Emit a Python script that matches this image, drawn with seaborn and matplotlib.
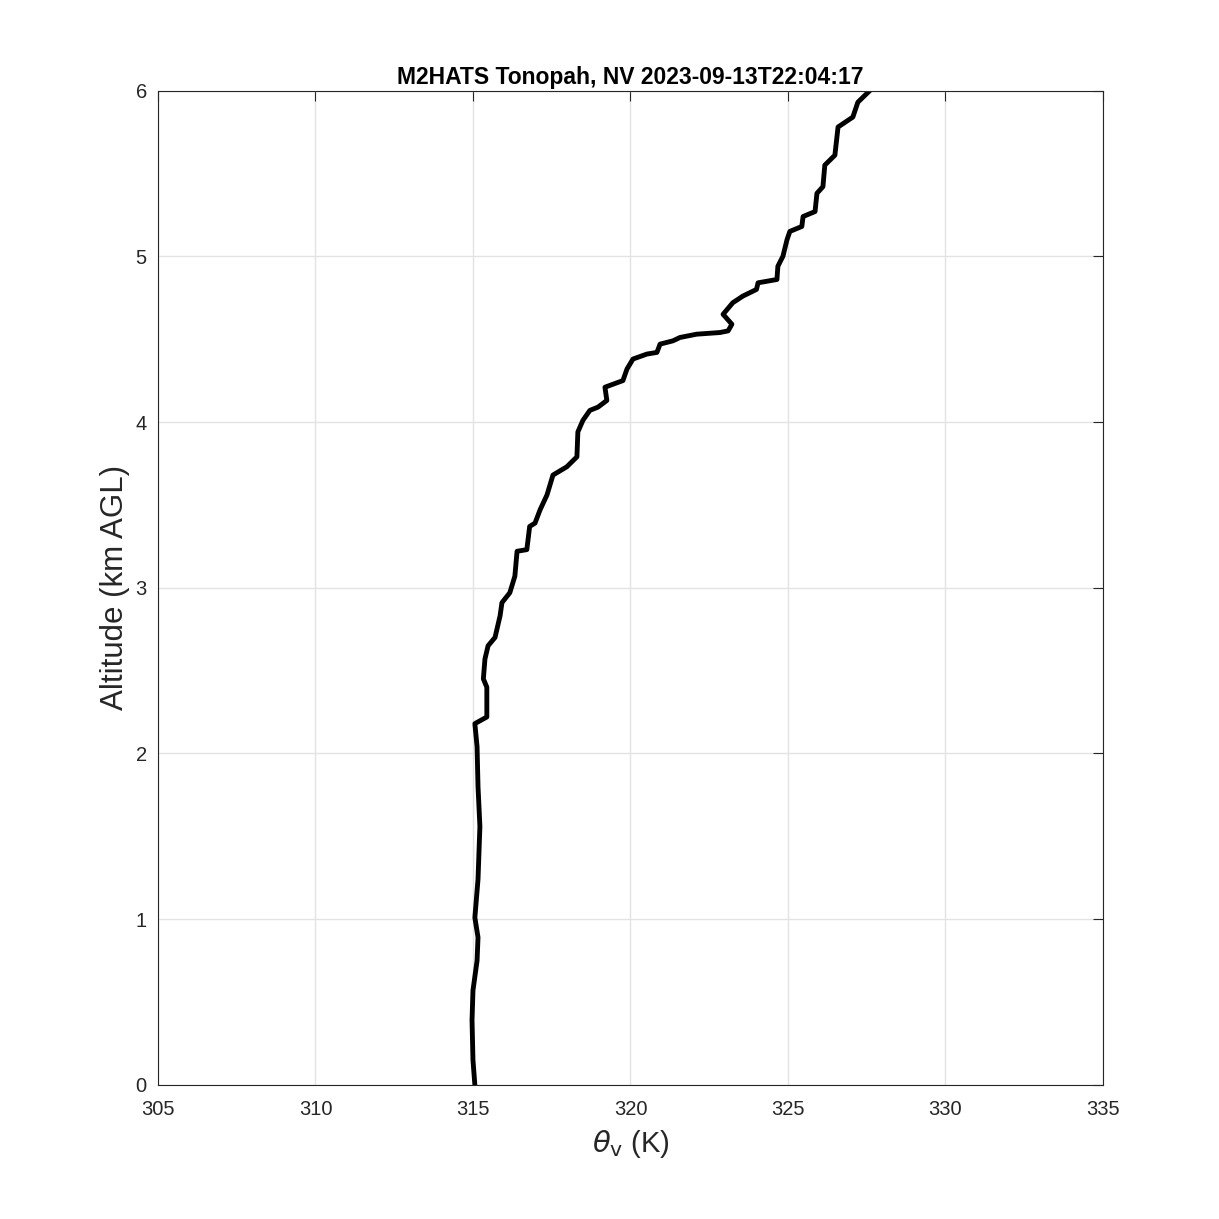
import numpy as np
import pandas as pd
import seaborn as sns
import matplotlib.pyplot as plt

# virtual potential temperature profile (K) vs altitude (km AGL)
theta_v = [315.06, 315.0, 314.97, 315.0, 315.13, 315.16, 315.06, 315.16, 315.22,
           315.16, 315.13, 315.06, 315.44, 315.44, 315.33, 315.38, 315.48, 315.70,
           315.86, 315.92, 316.17, 316.33, 316.40, 316.71, 316.80, 316.97, 317.13,
           317.35, 317.54, 317.98, 318.30, 318.33, 318.49, 318.71, 318.97, 319.25,
           319.19, 319.76, 319.89, 320.08, 320.52, 320.84, 320.94, 321.35, 321.57,
           322.10, 322.84, 323.10, 323.22, 322.94, 323.25, 323.57, 324.00, 324.05,
           324.65, 324.68, 324.84, 324.97, 325.06, 325.44, 325.48, 325.86, 325.92,
           326.11, 326.17, 326.49, 326.59, 327.06, 327.22, 327.60]
alt_km = [0.0, 0.15, 0.39, 0.57, 0.75, 0.89, 1.01, 1.24, 1.56,
          1.80, 2.04, 2.18, 2.22, 2.40, 2.45, 2.57, 2.65, 2.70,
          2.83, 2.91, 2.97, 3.07, 3.22, 3.23, 3.37, 3.39, 3.47,
          3.56, 3.68, 3.73, 3.79, 3.94, 4.01, 4.07, 4.09, 4.13,
          4.21, 4.25, 4.32, 4.38, 4.41, 4.42, 4.47, 4.49, 4.51,
          4.53, 4.54, 4.55, 4.59, 4.65, 4.72, 4.76, 4.80, 4.84,
          4.86, 4.94, 5.00, 5.10, 5.15, 5.18, 5.24, 5.27, 5.38,
          5.42, 5.55, 5.61, 5.78, 5.84, 5.93, 6.00]

xticks = [305, 310, 315, 320, 325, 330, 335]
yticks = [0, 1, 2, 3, 4, 5, 6]

df = pd.DataFrame({"theta_v": theta_v, "alt": alt_km})

sns.set_style("white")
plt.rcParams["font.family"] = ["Liberation Sans", "DejaVu Sans"]

fig = plt.figure(figsize=(12.19, 12.19), dpi=100)
ax = fig.add_axes([0.1296, 0.110, 0.7752, 0.8157])

sns.lineplot(data=df, x="theta_v", y="alt", sort=False, estimator=None,
             color="black", linewidth=3.5, ax=ax)

ax.set_xlim(305, 335)
ax.set_ylim(0, 6)
ax.set_xticks(xticks)
ax.set_yticks(yticks)
ax.grid(True, color="#e3e3e3", linewidth=1)
ax.tick_params(direction="in", length=7, width=0.8, labelsize=14.5,
               top=True, right=True, colors="#262626")
ax.tick_params(axis="x", pad=11)
ax.tick_params(axis="y", pad=8)
for s in ax.spines.values():
    s.set_color("#262626")
    s.set_linewidth(0.8)

ax.set_xlabel(r"$\theta_{\mathrm{v}}$ (K)", fontsize=21, color="#262626",
              labelpad=6)
ax.set_ylabel("Altitude (km AGL)", fontsize=22.5, color="#262626")
ax.set_title("M2HATS Tonopah, NV 2023-09-13T22:04:17", fontsize=16.5,
             fontweight="bold", color="black", pad=5)

fig.savefig("out.png", dpi=100)
